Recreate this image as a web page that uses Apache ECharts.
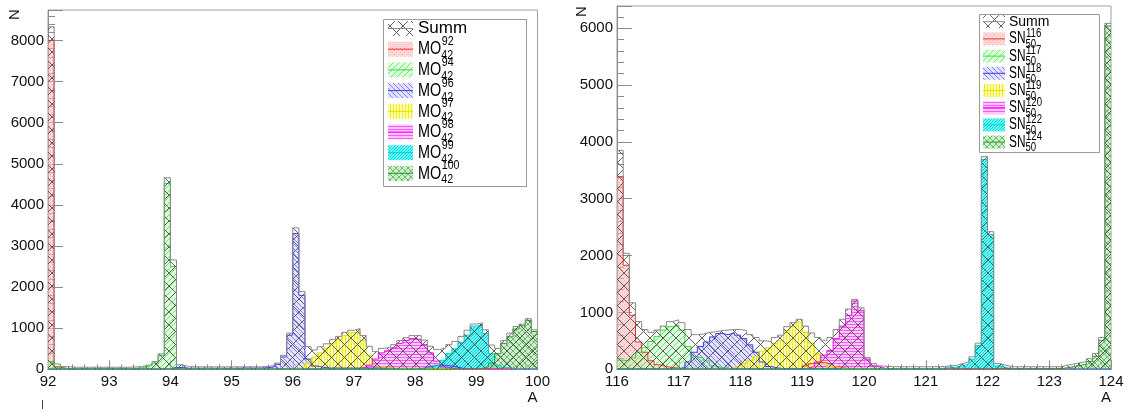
<!DOCTYPE html>
<html><head><meta charset="utf-8">
<script src="https://cdn.jsdelivr.net/npm/echarts@6/dist/echarts.min.js"></script>
<style>html,body{margin:0;padding:0;background:#fff}#c{width:1128px;height:409px}</style>
</head><body><div id="c"></div>
<script>
// ---------------- data ----------------
const binWidth = 0.1;
const leftRange = [92, 100];
const rightRange = [116, 124];
const leftYMax = 8740;
const rightYMax = 6390;
const leftIsotopes = ['92','94','96','97','98','99','100'];
const rightIsotopes = ['116','117','118','119','120','122','124'];

const moSumm = [
8330,130,70,55,50,50,50,50,50,50,
50,50,50,55,65,85,120,185,375,4660,
2660,110,65,60,60,60,60,60,60,60,
60,60,60,60,60,70,90,150,340,880,
3440,1890,550,470,550,620,720,800,900,950,
990,820,560,430,510,540,600,700,770,820,
820,710,560,480,520,600,680,800,950,1100,
1130,960,590,510,700,880,1040,1100,1230,960];
const mo92 = [
8000,60,25,15,10,8,6,5,4,3,
3,3,2,2,2,2,2,2,2,2,
25,10,3,2,2,2,2,2,2,2,
2,2,2,2,2,2,2,2,2,2,
2,2,2,2,2,2,2,2,2,2,
2,2,2,2,2,2,2,2,2,2,
2,2,2,2,2,2,2,2,2,2,
2,2,2,2,2,2,2,2,2,2];
const mo94 = [
185,40,20,15,15,15,15,15,15,15,
15,15,15,20,30,50,90,150,340,4520,
2500,40,20,12,10,10,10,10,10,10,
10,10,10,10,10,10,10,10,10,10,
8,8,8,8,8,8,8,8,8,8,
6,6,6,6,6,6,6,6,6,6,
5,5,5,5,5,5,5,5,5,5,
5,5,5,5,5,5,5,5,5,5];
const mo96 = [
5,5,5,5,5,5,5,5,5,5,
5,5,5,5,5,5,5,5,5,8,
50,40,25,25,25,25,25,25,25,25,
25,30,30,30,30,40,60,120,300,830,
3300,1800,250,80,50,30,30,30,30,30,
30,30,30,30,30,30,20,20,20,20,
20,40,80,100,100,80,50,20,15,5,
5,5,5,5,5,5,5,5,5,5];
const mo97 = [
5,5,5,5,5,5,5,5,5,5,
5,5,5,5,5,5,5,5,5,5,
5,5,5,5,5,5,5,5,5,5,
5,5,5,5,5,5,5,5,5,5,
20,60,150,300,400,520,620,720,820,890,
920,700,330,120,60,40,25,25,25,25,
25,25,25,25,25,25,5,5,5,5,
5,5,5,5,5,5,5,5,5,5];
const mo98 = [
3,3,3,3,3,3,3,3,3,3,
3,3,3,3,3,3,3,3,3,3,
3,3,3,3,3,3,3,3,3,3,
3,3,3,3,3,3,3,3,3,3,
3,3,3,3,3,3,3,3,3,3,
20,50,100,250,400,450,520,630,700,750,
720,600,400,200,60,30,8,8,8,8,
8,8,8,8,8,8,8,8,8,8];
const mo99 = [
5,5,5,5,5,5,5,5,5,5,
5,5,5,5,5,5,5,5,5,5,
5,5,5,5,5,5,5,5,5,5,
5,5,5,5,5,5,5,5,5,5,
5,5,5,5,5,5,5,5,5,5,
5,5,5,5,5,5,5,5,5,5,
20,30,40,100,220,380,500,660,830,1050,
1080,870,380,100,40,25,10,10,10,10];
const mo100 = [
3,3,3,3,3,3,3,3,3,3,
3,3,3,3,3,3,3,3,3,3,
3,3,3,3,3,3,3,3,3,3,
3,3,3,3,3,3,3,3,3,3,
3,3,3,3,3,3,3,3,3,3,
3,3,3,3,3,3,3,3,3,3,
3,3,3,3,3,3,3,3,3,3,
20,60,150,380,630,790,980,1060,1190,920];

const snSumm = [
3850,2040,1170,840,700,650,690,760,840,870,
820,700,610,620,650,660,680,690,700,700,
680,610,560,500,490,560,600,750,820,880,
760,640,560,510,560,700,880,1060,1230,1080,
210,100,60,50,45,45,45,45,45,45,
45,45,50,60,70,100,130,220,460,3740,
2420,100,70,45,45,45,45,45,45,45,
45,45,75,95,115,135,185,280,560,6085];
const sn116 = [
3380,1830,950,480,300,150,80,50,30,20,
10,10,10,10,10,10,10,10,10,10,
10,10,10,10,10,10,10,10,10,10,
60,100,120,110,80,40,20,5,5,5,
3,3,3,3,3,3,3,3,3,3,
3,3,3,3,3,3,3,3,3,3,
3,3,3,3,3,3,3,3,3,3,
3,3,3,3,3,3,3,3,3,3];
const sn117 = [
160,150,200,300,380,490,580,690,750,780,
690,400,220,200,150,60,30,15,15,15,
15,15,15,15,15,15,15,15,15,15,
15,15,15,15,15,15,15,15,15,15,
5,5,5,5,5,5,5,5,5,5,
5,5,5,5,5,5,5,5,5,5,
5,5,5,5,5,5,5,5,5,5,
5,5,5,5,5,5,5,5,5,5];
const sn118 = [
10,10,10,10,10,10,10,10,10,10,
30,130,300,400,480,570,630,610,640,600,
540,430,300,130,50,25,10,10,10,10,
10,10,10,10,10,10,10,10,10,10,
5,5,5,5,5,5,5,5,5,5,
5,5,5,5,5,5,5,5,5,5,
5,5,5,5,5,5,5,5,5,5,
5,5,5,5,5,5,5,5,5,5];
const sn119 = [
5,5,5,5,5,5,5,5,5,5,
5,5,5,5,5,5,5,5,30,60,
100,150,220,320,380,450,500,680,750,830,
650,460,280,100,50,30,10,10,10,10,
5,5,5,5,5,5,5,5,5,5,
5,5,5,5,5,5,5,5,5,5,
5,5,5,5,5,5,5,5,5,5,
5,5,5,5,5,5,5,5,5,5];
const sn120 = [
5,5,5,5,5,5,5,5,5,5,
5,5,5,5,5,5,5,5,5,5,
5,5,5,5,5,5,5,5,5,5,
20,50,130,250,330,540,760,950,1200,1030,
180,60,30,5,5,5,5,5,5,5,
5,5,5,5,5,5,5,5,5,5,
5,5,5,5,5,5,5,5,5,5,
5,5,5,5,5,5,5,5,5,5];
const sn122 = [
5,5,5,5,5,5,5,5,5,5,
5,5,5,5,5,5,5,5,5,5,
5,5,5,5,5,5,5,5,5,5,
5,5,5,5,5,5,5,5,5,5,
8,8,8,8,8,8,8,8,8,8,
8,8,20,30,40,60,90,180,420,3690,
2370,60,30,10,10,10,10,10,10,10,
10,10,10,10,10,10,10,10,10,10];
const sn124 = [
3,3,3,3,3,3,3,3,3,3,
3,3,3,3,3,3,3,3,3,3,
3,3,3,3,3,3,3,3,3,3,
3,3,3,3,3,3,3,3,3,3,
3,3,3,3,3,3,3,3,3,3,
3,3,3,3,3,3,3,3,3,3,
10,15,15,10,10,10,10,10,10,10,
10,10,30,50,70,90,140,230,510,6040];

const leftComponents = [mo92, mo94, mo96, mo97, mo98, mo99, mo100];
const rightComponents = [sn116, sn117, sn118, sn119, sn120, sn122, sn124];

// ---------------- styling ----------------
const mctx = document.createElement('canvas').getContext('2d');
const REG = '"Liberation Sans", Arial, Helvetica, sans-serif';
const tickFS = 15;
function textW(t, size, fam){ mctx.font = size + 'px ' + fam; return mctx.measureText(t).width; }

function tile(size, bg, draw){
  const c=document.createElement('canvas'); c.width=size; c.height=size;
  const g=c.getContext('2d');
  if(bg){ g.fillStyle=bg; g.fillRect(0,0,size,size); }
  if(draw) draw(g,size);
  return {image:c, repeat:'repeat'};
}
function diag(g,s,color,dir,w){
  g.strokeStyle=color; g.lineWidth=w||1; g.beginPath();
  for(let k=-1;k<=1;k++){
    if(dir>0){ g.moveTo(k*s, s); g.lineTo(k*s+s, 0); }
    else { g.moveTo(k*s, 0); g.lineTo(k*s+s, s); }
  }
  g.stroke();
}
const patterns = [
  tile(4,'rgba(255,185,185,0.55)', g=>{ g.fillStyle='rgba(255,120,120,0.5)'; g.fillRect(0,0,1,1); g.fillRect(2,2,1,1); }),
  tile(6,'rgba(185,255,185,0.45)', (g,s)=>diag(g,s,'rgba(70,225,70,0.75)',1)),
  tile(5,'rgba(200,200,255,0.5)', (g,s)=>diag(g,s,'rgba(90,90,255,0.7)',-1)),
  tile(3,'rgba(255,255,150,0.7)', g=>{ g.fillStyle='rgba(235,235,0,0.9)'; g.fillRect(0,0,1,3); }),
  tile(3,'rgba(255,165,255,0.6)', g=>{ g.fillStyle='rgba(255,60,255,0.8)'; g.fillRect(0,0,3,1); }),
  tile(3,'rgba(80,255,255,0.85)', g=>{ g.fillStyle='rgba(0,200,200,0.85)'; g.fillRect(0,0,1,1); g.fillRect(2,1,1,1); g.fillRect(1,2,1,1); }),
  tile(6,'rgba(170,228,170,0.6)', (g,s)=>{ diag(g,s,'rgba(80,170,80,0.75)',1); diag(g,s,'rgba(80,170,80,0.75)',-1); })
];
const summPattern = tile(13, null, (g,s)=>{ diag(g,s,'rgba(80,80,80,0.9)',1); diag(g,s,'rgba(80,80,80,0.9)',-1); });
const lineColors = ['#ff2a2a','#33dd33','#3a3aff','#e0e000','#ff00ff','#00d0d0','#2e9a2e'];
const summColor = '#8a8a8a';
const AX = '#8c8c8c';

function histPoints(vals, start){
  const pts = vals.map((v,i)=>[+(start + i*binWidth).toFixed(2), v]);
  pts.push([+(start + vals.length*binWidth).toFixed(2), vals[vals.length-1]]);
  return pts;
}

function panelSeries(comps, summ, start, names, base, gi){
  const out = [];
  comps.forEach((vals, k)=>{
    out.push({
      name: base + names[k], type:'line', xAxisIndex:gi, yAxisIndex:gi*2,
      data: histPoints(vals, start), step:'end', symbol:'none', showSymbol:false,
      lineStyle:{color:lineColors[k], width:1}, itemStyle:{color:lineColors[k]},
      areaStyle:{color:patterns[k], opacity:1}, silent:true, z:2
    });
  });
  out.push({
    name:'Summ', type:'line', xAxisIndex:gi, yAxisIndex:gi*2,
    data: histPoints(summ, start), step:'end', symbol:'none', showSymbol:false,
    lineStyle:{color:summColor, width:1}, itemStyle:{color:summColor},
    areaStyle:{color:summPattern, opacity:1}, silent:true, z:3
  });
  return out;
}

function xAxisCfg(gi, range){
  return {
    gridIndex:gi, type:'value', min:range[0], max:range[1], interval:1,
    axisLine:{show:true, onZero:false, lineStyle:{color:AX}},
    axisTick:{show:true, inside:true, length:9, lineStyle:{color:AX}},
    minorTick:{show:true, splitNumber:5, length:5, lineStyle:{color:AX}},
    axisLabel:{margin:5, color:'#111', fontSize:tickFS, fontFamily:REG, showMinLabel:true, showMaxLabel:true, hideOverlap:false},
    splitLine:{show:false}, minorSplitLine:{show:false},
    name:'A', nameLocation:'end', nameGap:0,
    nameTextStyle:{align:'right', verticalAlign:'top', padding:[21,0,0,0], fontSize:tickFS, color:'#111', fontFamily:REG}
  };
}
function yAxesCfg(gi, max){
  return [
    {gridIndex:gi, type:'value', min:0, max:max, interval:200, position:'left',
     axisLine:{show:true, onZero:false, lineStyle:{color:AX}},
     axisTick:{show:true, inside:true, length:7, lineStyle:{color:AX}},
     axisLabel:{show:false}, splitLine:{show:false}},
    {gridIndex:gi, type:'value', min:0, max:max, interval:1000, position:'left',
     axisLine:{show:false, onZero:false},
     axisTick:{show:true, inside:true, length:15, lineStyle:{color:AX}},
     axisLabel:{show:true, margin:4, color:'#111', fontSize:tickFS, fontFamily:REG,
       formatter: v => (v % 1000 === 0 ? String(v) : '')},
     splitLine:{show:false}}
  ];
}

function txt(x, y, text, size, sx, z){
  return {type:'text', z:z||102, x:x, y:y, scaleX:sx||1, scaleY:1,
    style:{text:text, fontSize:size, fontFamily:REG, fill:'#000', align:'left', verticalAlign:'middle', textAlign:'left', textVerticalAlign:'middle'}};
}

function buildLegend(L, names, base, sub){
  const els = [];
  const [bx,by,bw,bh] = L.box;
  els.push({type:'rect', z:100, shape:{x:bx+0.5,y:by+0.5,width:bw,height:bh}, style:{fill:'#fff', stroke:'#9a9a9a', lineWidth:1}});
  let cy = L.row0;
  els.push({type:'rect', z:101, shape:{x:L.swX, y:cy-L.swH/2, width:L.swW, height:L.swH}, style:{fill:summPattern}});
  els.push({type:'line', z:102, shape:{x1:L.swX, y1:cy, x2:L.swX+L.swW, y2:cy}, style:{stroke:summColor, lineWidth:1}});
  els.push(txt(L.textX, cy, 'Summ', L.summFont, 1));
  const bw0 = textW(base, L.baseFont, REG) * L.baseSX;
  names.forEach((n,k)=>{
    const y = L.row0 + (k+1)*L.dy;
    els.push({type:'rect', z:101, shape:{x:L.swX, y:y-L.swH/2, width:L.swW, height:L.swH}, style:{fill:patterns[k]}});
    els.push({type:'line', z:102, shape:{x1:L.swX, y1:y, x2:L.swX+L.swW, y2:y}, style:{stroke:lineColors[k], lineWidth:1}});
    els.push(txt(L.textX, y, base, L.baseFont, L.baseSX));
    els.push(txt(L.textX+bw0+0.5, y+L.supDy, n, L.supFont, L.supSX, 103));
    els.push(txt(L.textX+bw0, y+L.subDy, sub, L.supFont, L.supSX, 103));
  });
  return els;
}

const legendLeft = {box:[383,19,143,167], row0:28.5, dy:20.7, swX:388, swW:25, swH:15, textX:418,
  summFont:17, baseFont:19, baseSX:0.76, supFont:13, supSX:0.82, supDy:-7.5, subDy:6.5};
const legendRight = {box:[979,14,120,138], row0:21.7, dy:17.2, swX:983, swW:22, swH:13, textX:1009,
  summFont:14, baseFont:16, baseSX:0.74, supFont:12, supSX:0.8, supDy:-5, subDy:6};

const graphics = [].concat(
  buildLegend(legendLeft, leftIsotopes, 'MO', '42'),
  buildLegend(legendRight, rightIsotopes, 'SN', '50'),
  [
    {type:'group', x:14.5, y:14.5, rotation:Math.PI/2, z:50, children:[
      {type:'text', z:50, style:{text:'N', fontSize:15, fontFamily:REG, fill:'#111', align:'center', verticalAlign:'middle', textAlign:'center', textVerticalAlign:'middle'}}]},
    {type:'group', x:582, y:11.5, rotation:Math.PI/2, z:50, children:[
      {type:'text', z:50, style:{text:'N', fontSize:15, fontFamily:REG, fill:'#111', align:'center', verticalAlign:'middle', textAlign:'center', textVerticalAlign:'middle'}}]},
    {type:'line', z:50, shape:{x1:42.5, y1:400, x2:42.5, y2:409}, style:{stroke:'#444', lineWidth:1}}
  ]
);

const chart = echarts.init(document.getElementById('c'), null, {renderer:'canvas'});
chart.setOption({
  animation:false,
  backgroundColor:'#ffffff',
  grid:[
    {left:48, top:10, width:489.5, height:359.3, show:true, borderColor:'#a0a0a0', borderWidth:1, backgroundColor:'transparent', containLabel:false, outerBoundsMode:'none'},
    {left:617, top:6, width:494, height:363.3, show:true, borderColor:'#a0a0a0', borderWidth:1, backgroundColor:'transparent', containLabel:false, outerBoundsMode:'none'}
  ],
  xAxis:[xAxisCfg(0, leftRange), xAxisCfg(1, rightRange)],
  yAxis:[].concat(yAxesCfg(0, leftYMax), yAxesCfg(1, rightYMax)),
  series:[].concat(
    panelSeries(leftComponents, moSumm, leftRange[0], leftIsotopes, 'MO', 0),
    panelSeries(rightComponents, snSumm, rightRange[0], rightIsotopes, 'SN', 1)
  ),
  graphic:graphics
});
</script>
</body></html>
